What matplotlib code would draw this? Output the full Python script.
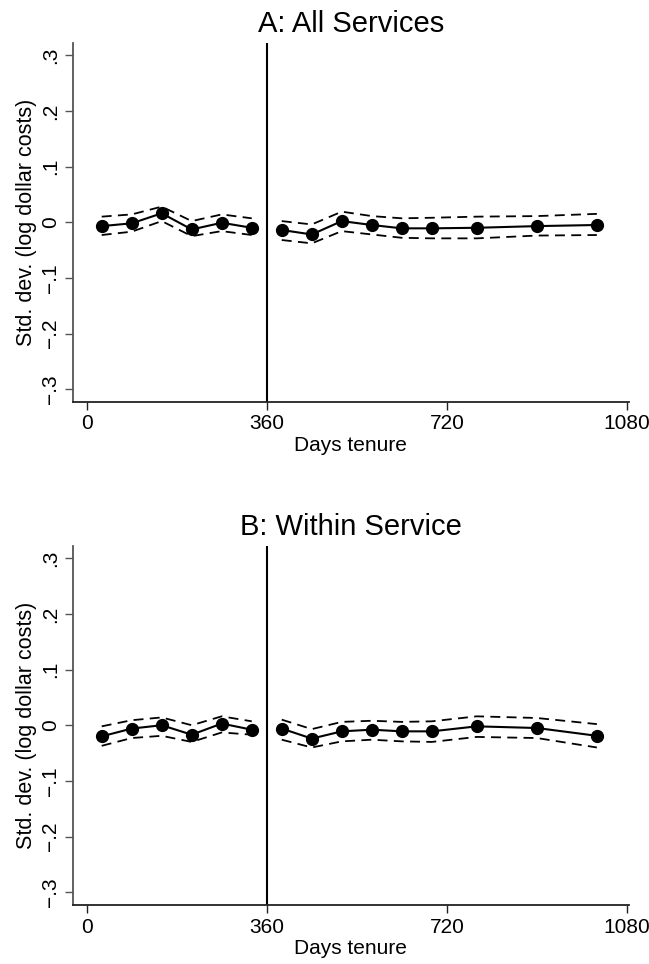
import matplotlib
matplotlib.use('Agg')
import matplotlib.pyplot as plt
import numpy as np

plt.rcParams['font.family'] = ['Liberation Sans', 'DejaVu Sans']

# days tenure (bin midpoints)
days = [30, 90, 150, 210, 270, 330, 390, 450, 510, 570, 630, 690, 780, 900, 1020]

# A: All Services
a_est = [-0.007, -0.002, 0.016, -0.013, -0.001, -0.010, -0.014, -0.022, 0.002,
         -0.005, -0.011, -0.011, -0.010, -0.007, -0.005]
a_hi = [0.010, 0.014, 0.028, 0.002, 0.014, 0.007, 0.002, -0.004, 0.019,
        0.011, 0.007, 0.008, 0.010, 0.011, 0.015]
a_lo = [-0.023, -0.017, 0.002, -0.025, -0.016, -0.023, -0.032, -0.038, -0.016,
        -0.022, -0.028, -0.029, -0.029, -0.024, -0.023]

# B: Within Service
b_est = [-0.020, -0.006, 0.000, -0.017, 0.003, -0.008, -0.006, -0.024, -0.011,
         -0.008, -0.011, -0.011, -0.002, -0.005, -0.019]
b_hi = [-0.002, 0.009, 0.014, 0.000, 0.016, 0.007, 0.010, -0.007, 0.006,
        0.008, 0.006, 0.007, 0.016, 0.013, 0.002]
b_lo = [-0.037, -0.023, -0.019, -0.030, -0.013, -0.017, -0.026, -0.040, -0.029,
        -0.026, -0.029, -0.030, -0.021, -0.023, -0.040]

yticks = [-0.3, -0.2, -0.1, 0, 0.1, 0.2, 0.3]
ytick_labels = ['\u2212.3', '\u2212.2', '\u2212.1', '0', '.1', '.2', '.3']
xticks = [0, 360, 720, 1080]

fig = plt.figure(figsize=(6.49, 9.64), dpi=100)
ax_a = fig.add_axes([0.112, 0.583, 0.857, 0.3724])
ax_b = fig.add_axes([0.112, 0.0612, 0.857, 0.3724])

panels = [(ax_a, 'A: All Services', a_est, a_hi, a_lo),
          (ax_b, 'B: Within Service', b_est, b_hi, b_lo)]

x = np.array(days)
for ax, title, est, hi, lo in panels:
    est = np.array(est)
    hi = np.array(hi)
    lo = np.array(lo)
    # the series is broken at the 360-day line
    for part in [x < 360, x > 360]:
        ax.plot(x[part], est[part], color='black', lw=1.5, marker='o', ms=8.5)
        ax.plot(x[part], hi[part], color='black', lw=1.3, dashes=(5.5, 3.5))
        ax.plot(x[part], lo[part], color='black', lw=1.3, dashes=(5.5, 3.5))
    ax.axvline(360, color='black', lw=1.5)
    ax.set_xlim(-28, 1084)
    ax.set_ylim(-0.323, 0.322)
    ax.set_xticks(xticks)
    ax.set_xticklabels([str(t) for t in xticks])
    ax.set_yticks(yticks)
    ax.set_yticklabels(ytick_labels, rotation=90, va='center')
    ax.tick_params(direction='out', length=6, width=1, labelsize=15,
                   colors='#222222', pad=3)
    ax.tick_params(axis='y', colors='#555555', labelcolor='black')
    ax.tick_params(axis='x', labelcolor='black')
    ax.spines['top'].set_visible(False)
    ax.spines['right'].set_visible(False)
    ax.spines['left'].set_color('#555555')
    ax.spines['left'].set_linewidth(1.3)
    ax.spines['bottom'].set_color('#222222')
    ax.spines['bottom'].set_linewidth(1.3)
    ax.set_xlabel('Days tenure', fontsize=15, labelpad=2)
    ax.set_ylabel('Std. dev. (log dollar costs)', fontsize=15.5, labelpad=3)
    ax.set_title(title, fontsize=21, pad=8)

fig.savefig('out.png', dpi=100)
